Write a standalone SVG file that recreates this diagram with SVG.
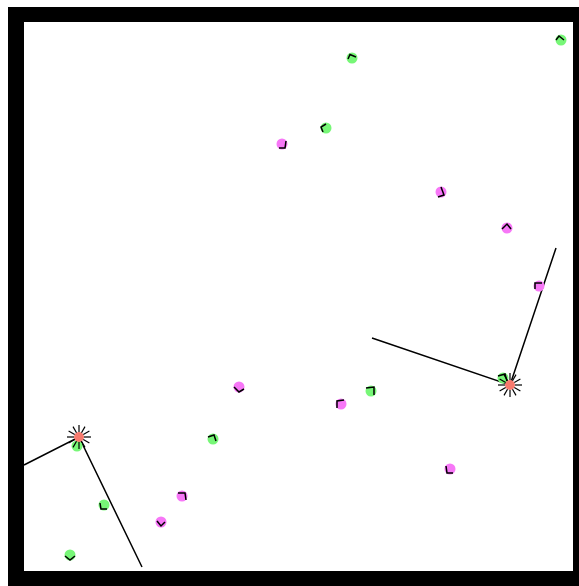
<svg xmlns="http://www.w3.org/2000/svg" width="579" height="586" viewBox="0 0 579 586">
<style>
.g{fill:#77f777}
.m{fill:#f777f7}
.ch{fill:none;stroke:#000;stroke-width:1.5}
.ln{fill:none;stroke:#000;stroke-width:1.5}
.st{fill:#f77a6e}
.ray{stroke:#000;stroke-width:1.2}
</style>
<defs>
<g id="rays">
<line class="ray" x1="5" y1="0" x2="12" y2="0"/>
<line class="ray" x1="4.3" y1="2.5" x2="10.4" y2="6"/>
<line class="ray" x1="2.5" y1="4.3" x2="6" y2="10.4"/>
<line class="ray" x1="0" y1="5" x2="0" y2="12"/>
<line class="ray" x1="-2.5" y1="4.3" x2="-6" y2="10.4"/>
<line class="ray" x1="-4.3" y1="2.5" x2="-10.4" y2="6"/>
<line class="ray" x1="-5" y1="0" x2="-12" y2="0"/>
<line class="ray" x1="-4.3" y1="-2.5" x2="-10.4" y2="-6"/>
<line class="ray" x1="-2.5" y1="-4.3" x2="-6" y2="-10.4"/>
<line class="ray" x1="0" y1="-5" x2="0" y2="-12"/>
<line class="ray" x1="2.5" y1="-4.3" x2="6" y2="-10.4"/>
<line class="ray" x1="4.3" y1="-2.5" x2="10.4" y2="-6"/>
</g>
</defs>
<rect x="8" y="7" width="571" height="579" fill="#000"/>
<rect x="24" y="22" width="549" height="549" fill="#fff"/>
<g id="connectors">
<polyline class="ln" points="372,338 510,385 556,248"/>
<polyline class="ln" points="24,465 79,437 142,567"/>
</g>
<g id="g1"><circle class="g" cx="352" cy="58" r="5.5"/><polyline class="ch" points="348,59 350,54.5 356,57"/></g>
<g id="g2"><circle class="g" cx="561" cy="40" r="5.5"/><polyline class="ch" points="556,40 559,36 564,40"/></g>
<g id="g3"><circle class="g" cx="326" cy="128" r="5.5"/><polyline class="ch" points="326,124 321,127 323,132"/></g>
<g id="g4"><circle class="g" cx="371" cy="391" r="5.5"/><polyline class="ch" points="366,388 374,387 374,395"/></g>
<g id="g5"><circle class="g" cx="503" cy="378" r="5.5"/><polyline class="ch" points="498,376 505,374 507,381"/></g>
<g id="g6"><circle class="g" cx="213" cy="439" r="5.5"/><polyline class="ch" points="208,437 214,435 216,441"/></g>
<g id="g7"><circle class="g" cx="104" cy="505" r="5.5"/><polyline class="ch" points="100,503 101,509 107,509"/></g>
<g id="g8"><circle class="g" cx="70" cy="555" r="5.5"/><polyline class="ch" points="65,556 70,560 75,556"/></g>
<g id="g9"><circle class="g" cx="77" cy="446" r="5.5"/></g>
<g id="m1"><circle class="m" cx="282" cy="144" r="5.5"/><polyline class="ch" points="286,141 285,148 279,148"/></g>
<g id="m2"><circle class="m" cx="441" cy="192" r="5.5"/><polyline class="ch" points="441,187 444,195 438,197"/></g>
<g id="m3"><circle class="m" cx="507" cy="228" r="5.5"/><polyline class="ch" points="502,229 507,224 511,229"/></g>
<g id="m4"><circle class="m" cx="539" cy="286" r="5.5"/><polyline class="ch" points="535,289 535,283 542,283"/></g>
<g id="m5"><circle class="m" cx="239" cy="387" r="5.5"/><polyline class="ch" points="234,387 239,392 244,389"/></g>
<g id="m6"><circle class="m" cx="341" cy="404" r="5.5"/><polyline class="ch" points="337,408 337,401 344,400"/></g>
<g id="m7"><circle class="m" cx="450" cy="469" r="5.5"/><polyline class="ch" points="446,466 447,473 453,473"/></g>
<g id="m8"><circle class="m" cx="182" cy="496" r="5.5"/><polyline class="ch" points="178,493 185,493 186,500"/></g>
<g id="m9"><circle class="m" cx="161" cy="522" r="5.5"/><polyline class="ch" points="157,521 161,526 165,522"/></g>
<g id="s1"><circle class="st" cx="510" cy="385" r="5"/><use href="#rays" x="510" y="385"/></g>
<g id="s2"><circle class="st" cx="79" cy="437" r="5"/><use href="#rays" x="79" y="437"/></g>
</svg>
